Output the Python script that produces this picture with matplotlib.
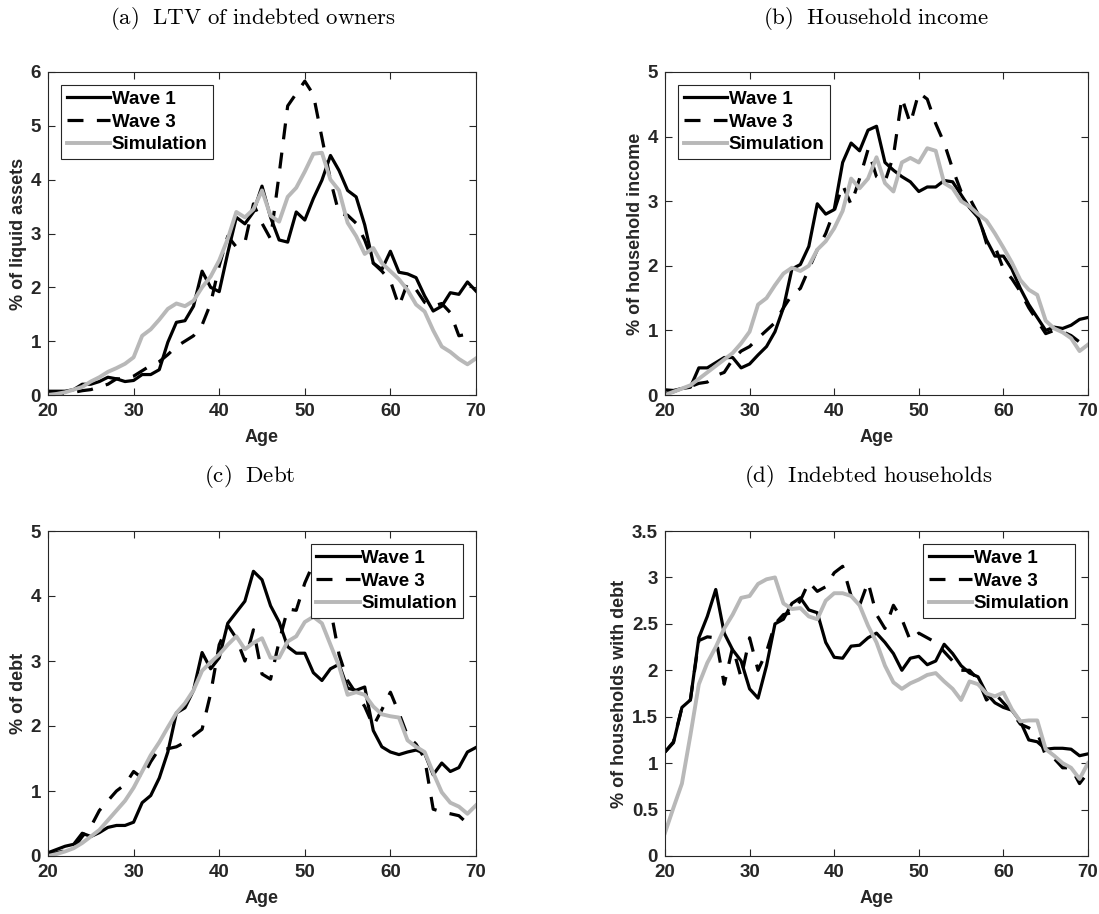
import numpy as np
import matplotlib
matplotlib.use("Agg")
import matplotlib.pyplot as plt

plt.rcParams['font.family'] = ['Liberation Sans', 'DejaVu Sans']
plt.rcParams['mathtext.fontset'] = 'cm'

# Age grid shared by all panels
ages = np.arange(20, 71)

# (a) LTV of indebted owners
ltv_wave1 = [0.07, 0.07, 0.07, 0.10, 0.20, 0.20, 0.25, 0.33, 0.30, 0.25,
             0.27, 0.38, 0.38, 0.47, 0.98, 1.35, 1.38, 1.65, 2.30, 2.00,
             1.92, 2.64, 3.30, 3.18, 3.40, 3.88, 3.30, 2.88, 2.84, 3.40,
             3.25, 3.65, 3.99, 4.45, 4.17, 3.80, 3.68, 3.16, 2.45, 2.33,
             2.67, 2.28, 2.25, 2.18, 1.84, 1.56, 1.65, 1.90, 1.87, 2.10, 1.93]
ltv_wave3 = [0.02, 0.02, 0.02, 0.05, 0.08, 0.10, 0.15, 0.20, 0.30, 0.30,
             0.35, 0.45, 0.55, 0.62, 0.75, 0.90, 1.00, 1.10, 1.30, 1.70,
             2.40, 2.95, 2.75, 2.83, 3.55, 3.19, 2.90, 4.10, 5.37, 5.60,
             5.83, 5.58, 4.78, 3.99, 3.37, 3.34, 3.19, 2.88, 2.45, 2.30,
             2.12, 1.65, 2.08, 1.96, 1.72, 1.65, 1.70, 1.53, 1.10, 1.13, 1.10]
ltv_sim = [0.00, 0.02, 0.05, 0.10, 0.15, 0.25, 0.33, 0.43, 0.50, 0.58,
           0.70, 1.10, 1.22, 1.40, 1.60, 1.70, 1.65, 1.75, 2.00, 2.20,
           2.50, 2.90, 3.40, 3.30, 3.45, 3.80, 3.33, 3.22, 3.68, 3.85,
           4.15, 4.48, 4.50, 4.00, 3.80, 3.20, 2.95, 2.62, 2.73, 2.45,
           2.30, 2.15, 1.95, 1.68, 1.55, 1.20, 0.90, 0.80, 0.67, 0.57, 0.68]

# (b) Household income
inc_wave1 = [0.08, 0.07, 0.10, 0.12, 0.42, 0.42, 0.50, 0.58, 0.58, 0.42,
             0.48, 0.62, 0.75, 0.98, 1.35, 1.95, 2.02, 2.30, 2.96, 2.80,
             2.87, 3.60, 3.90, 3.78, 4.10, 4.16, 3.60, 3.48, 3.38, 3.30,
             3.15, 3.22, 3.22, 3.32, 3.30, 3.10, 2.90, 2.75, 2.40, 2.15,
             2.15, 1.95, 1.65, 1.40, 1.20, 1.00, 1.05, 1.03, 1.08, 1.17, 1.20]
inc_wave3 = [0.02, 0.05, 0.10, 0.13, 0.18, 0.20, 0.30, 0.35, 0.55, 0.68,
             0.75, 0.88, 1.00, 1.12, 1.35, 1.55, 1.65, 1.95, 2.25, 2.50,
             2.85, 3.25, 2.95, 3.35, 3.80, 3.38, 3.30, 3.70, 4.60, 4.20,
             4.68, 4.58, 4.20, 3.90, 3.50, 3.15, 3.05, 2.80, 2.35, 2.30,
             1.95, 1.80, 1.60, 1.35, 1.15, 0.95, 1.00, 0.98, 0.92, 0.82, 0.80]
inc_sim = [0.00, 0.05, 0.10, 0.15, 0.25, 0.35, 0.45, 0.55, 0.65, 0.80,
           0.98, 1.40, 1.50, 1.70, 1.88, 1.97, 1.92, 2.00, 2.25, 2.38,
           2.58, 2.85, 3.35, 3.20, 3.35, 3.68, 3.28, 3.15, 3.60, 3.67,
           3.60, 3.82, 3.78, 3.28, 3.20, 3.00, 2.92, 2.80, 2.70, 2.50,
           2.28, 2.05, 1.78, 1.63, 1.55, 1.15, 1.03, 0.97, 0.88, 0.68, 0.78]

# (c) Debt
debt_wave1 = [0.05, 0.10, 0.15, 0.18, 0.35, 0.30, 0.36, 0.44, 0.47, 0.47,
              0.52, 0.82, 0.93, 1.20, 1.60, 2.20, 2.28, 2.55, 3.13, 2.88,
              3.05, 3.58, 3.75, 3.92, 4.38, 4.25, 3.85, 3.60, 3.22, 3.12,
              3.12, 2.82, 2.70, 2.88, 2.95, 2.58, 2.55, 2.60, 1.93, 1.68,
              1.60, 1.56, 1.60, 1.63, 1.58, 1.25, 1.43, 1.30, 1.36, 1.60, 1.67]
debt_wave3 = [0.02, 0.05, 0.08, 0.12, 0.30, 0.45, 0.70, 0.85, 1.00, 1.10,
              1.30, 1.20, 1.45, 1.65, 1.65, 1.68, 1.75, 1.85, 1.95, 2.50,
              3.25, 3.55, 3.35, 3.00, 3.48, 2.80, 2.72, 3.30, 3.80, 3.78,
              4.20, 4.50, 4.30, 3.80, 3.10, 2.70, 2.50, 2.30, 2.00, 2.25,
              2.52, 2.20, 1.85, 1.72, 1.50, 0.72, 0.68, 0.65, 0.62, 0.50, np.nan]
debt_sim = [0.00, 0.03, 0.07, 0.12, 0.20, 0.30, 0.40, 0.55, 0.70, 0.85,
            1.05, 1.30, 1.55, 1.75, 1.98, 2.20, 2.35, 2.55, 2.85, 2.98,
            3.10, 3.25, 3.38, 3.18, 3.28, 3.35, 3.05, 3.05, 3.30, 3.38,
            3.60, 3.68, 3.58, 3.25, 2.92, 2.48, 2.52, 2.48, 2.30, 2.18,
            2.15, 2.13, 1.78, 1.68, 1.60, 1.28, 0.98, 0.82, 0.76, 0.65, 0.78]

# (d) Indebted households
hh_wave1 = [1.12, 1.22, 1.60, 1.68, 2.35, 2.58, 2.87, 2.40, 2.22, 2.10,
            1.80, 1.70, 2.05, 2.50, 2.55, 2.72, 2.78, 2.65, 2.62, 2.30,
            2.14, 2.13, 2.26, 2.27, 2.35, 2.40, 2.30, 2.18, 2.00, 2.13,
            2.15, 2.06, 2.10, 2.28, 2.18, 2.05, 1.97, 1.93, 1.75, 1.65,
            1.60, 1.57, 1.45, 1.25, 1.23, 1.15, 1.16, 1.16, 1.15, 1.08, 1.10]
hh_wave3 = [1.12, 1.23, 1.60, 1.68, 2.32, 2.36, 2.35, 1.85, 2.25, 1.92,
            2.35, 2.00, 2.20, 2.50, 2.60, 2.62, 2.75, 2.95, 2.85, 2.90,
            3.05, 3.12, 2.80, 2.70, 2.95, 2.60, 2.45, 2.70, 2.55, 2.32,
            2.40, 2.35, 2.30, 2.20, 2.10, 2.00, 2.00, 1.90, 1.68, 1.75,
            1.65, 1.55, 1.42, 1.38, 1.33, 1.08, 1.05, 0.95, 0.95, 0.78, 0.90]
hh_sim = [0.25, 0.52, 0.78, 1.30, 1.85, 2.08, 2.25, 2.45, 2.60, 2.78,
          2.80, 2.93, 2.98, 3.00, 2.72, 2.66, 2.67, 2.58, 2.55, 2.75,
          2.83, 2.83, 2.80, 2.70, 2.48, 2.30, 2.05, 1.87, 1.80, 1.86,
          1.90, 1.95, 1.97, 1.88, 1.80, 1.68, 1.88, 1.85, 1.75, 1.72,
          1.76, 1.58, 1.45, 1.46, 1.46, 1.15, 1.08, 1.00, 0.95, 0.83, 1.00]

titles = [r'$\mathrm{(a)\ \ LTV\ of\ indebted\ owners}$',
          r'$\mathrm{(b)\ \ Household\ income}$',
          r'$\mathrm{(c)\ \ Debt}$',
          r'$\mathrm{(d)\ \ Indebted\ households}$']
ylabels = ['% of liquid assets', '% of household income',
           '% of debt', '% of households with debt']
yticks = [np.arange(0, 7, 1), np.arange(0, 6, 1),
          np.arange(0, 6, 1), np.arange(0, 4, 0.5)]
legend_locs = ['upper left', 'upper left', 'upper right', 'upper right']
series = [(ltv_wave1, ltv_wave3, ltv_sim),
          (inc_wave1, inc_wave3, inc_sim),
          (debt_wave1, debt_wave3, debt_sim),
          (hh_wave1, hh_wave3, hh_sim)]

W, H = 1099, 914
# axes boxes in pixels: left, top, right, bottom
boxes = [(48, 72, 476, 395), (665, 72, 1088, 395),
         (48, 531, 476, 856), (665, 531, 1088, 856)]
title_pos = [(253, 18), (876, 18), (250, 477), (868, 477)]

dark = '#262626'
fig = plt.figure(figsize=(W / 100, H / 100), dpi=100)

for i in range(4):
    l, t, r, b = boxes[i]
    ax = fig.add_axes([l / W, 1 - b / H, (r - l) / W, (b - t) / H])
    w1, w3, sim = series[i]
    ax.plot(ages, w1, color='black', lw=2.3, label='Wave 1')
    ax.plot(ages, w3, color='black', lw=2.3, dashes=(5, 4.2), label='Wave 3')
    ax.plot(ages, sim, color='#b8b8b8', lw=2.8, label='Simulation')

    ax.set_xlim(20, 70)
    ax.set_ylim(yticks[i][0], yticks[i][-1])
    ax.set_xticks(np.arange(20, 71, 10))
    ax.set_yticks(yticks[i])
    ax.set_yticklabels([f'{v:g}' for v in yticks[i]])
    ax.tick_params(direction='in', top=True, right=True, length=5, width=0.8,
                   colors=dark, labelsize=13.5)
    ax.tick_params(axis='x', pad=6)
    ax.tick_params(axis='y', pad=5)
    for lab in ax.get_xticklabels() + ax.get_yticklabels():
        lab.set_fontweight('bold')
    for sp in ax.spines.values():
        sp.set_color(dark)
        sp.set_linewidth(0.8)
    ax.set_xlabel('Age', fontsize=13, fontweight='bold', color=dark, labelpad=6)
    ax.set_ylabel(ylabels[i], fontsize=13, fontweight='bold', color=dark, labelpad=3)

    leg = ax.legend(loc=legend_locs[i], fancybox=False, framealpha=1,
                    edgecolor=dark, prop={'weight': 'bold', 'size': 13.5},
                    handlelength=2.3, handletextpad=0.1, labelspacing=0.3,
                    borderpad=0.3, borderaxespad=0.7)
    leg.get_frame().set_linewidth(0.8)

    fig.text(title_pos[i][0] / W, 1 - title_pos[i][1] / H, titles[i],
             ha='center', va='center', fontsize=16.5)

fig.savefig('out.png', dpi=100)
